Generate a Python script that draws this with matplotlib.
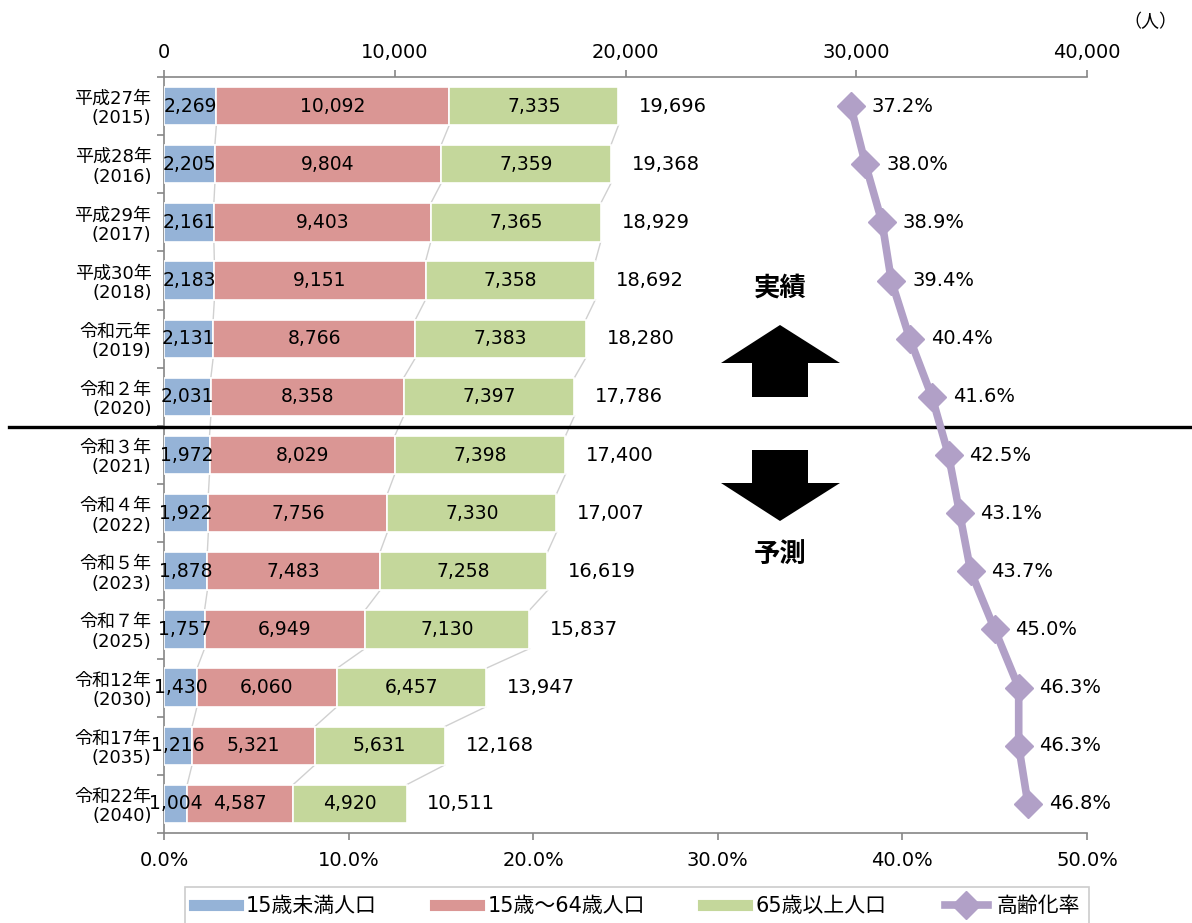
import matplotlib
matplotlib.use("Agg")
import matplotlib.pyplot as plt
from matplotlib.lines import Line2D
from matplotlib.patches import Polygon
from matplotlib.ticker import FuncFormatter
import numpy as np

plt.rcParams['font.family'] = ['DejaVu Sans', 'Noto Sans CJK JP']

years = ['平成27年\n(2015)', '平成28年\n(2016)', '平成29年\n(2017)', '平成30年\n(2018)',
         '令和元年\n(2019)', '令和２年\n(2020)', '令和３年\n(2021)', '令和４年\n(2022)',
         '令和５年\n(2023)', '令和７年\n(2025)', '令和12年\n(2030)', '令和17年\n(2035)',
         '令和22年\n(2040)']
under15 = [2269, 2205, 2161, 2183, 2131, 2031, 1972, 1922, 1878, 1757, 1430, 1216, 1004]
age15_64 = [10092, 9804, 9403, 9151, 8766, 8358, 8029, 7756, 7483, 6949, 6060, 5321, 4587]
over65 = [7335, 7359, 7365, 7358, 7383, 7397, 7398, 7330, 7258, 7130, 6457, 5631, 4920]
total = [19696, 19368, 18929, 18692, 18280, 17786, 17400, 17007, 16619, 15837, 13947, 12168, 10511]
aging_rate = [37.2, 38.0, 38.9, 39.4, 40.4, 41.6, 42.5, 43.1, 43.7, 45.0, 46.3, 46.3, 46.8]

series_names = ['15歳未満人口', '15歳～64歳人口', '65歳以上人口', '高齢化率']
colors = ['#95b3d7', '#da9694', '#c4d79b']
rate_color = '#b1a0c7'
grey = '#868686'

W, H = 1192, 923
fig = plt.figure(figsize=(W / 100, H / 100), dpi=100)
ax = fig.add_axes([164 / W, 1 - 833 / H, 923 / W, 756 / H])

y = np.arange(len(years))
bh = 0.66
left = np.zeros(len(years))
cums = []
for vals, c in zip([under15, age15_64, over65], colors):
    vals = np.array(vals)
    ax.barh(y, vals, left=left, height=bh, color=c, edgecolor='white', linewidth=1.2, zorder=3)
    for yi, l, v in zip(y, left, vals):
        ax.text(l + v / 2, yi, f'{v:,}', ha='center', va='center', fontsize=13.5, zorder=5)
    left = left + vals
    cums.append(left.copy())

# connector lines between stacked bars
for cum in cums:
    for i in range(len(years) - 1):
        ax.plot([cum[i], cum[i + 1]], [i + bh / 2, i + 1 - bh / 2], color='#d0d0d0', lw=1, zorder=2)

for yi, t in zip(y, total):
    ax.annotate(f'{t:,}', xy=(t, yi), xytext=(15, 0), textcoords='offset points',
                ha='left', va='center', fontsize=14)

ax.set_xlim(0, 40000)
ax.set_ylim(len(years) - 0.5, -0.5)
ax.set_yticks(y)
ax.set_yticklabels(years, fontsize=13, linespacing=1.1)
ax.set_yticks(np.arange(-0.5, len(years)), minor=True)
ax.tick_params(axis='y', which='major', length=0, pad=9)
ax.tick_params(axis='y', which='minor', length=5, width=1.2, color=grey)
for s in ['right', 'bottom']:
    ax.spines[s].set_visible(False)
for s in ['top', 'left']:
    ax.spines[s].set_color(grey)
    ax.spines[s].set_linewidth(1.2)

# divider between actual and forecast
ax.plot([(9 - 164) / 923, (W - 164) / 923], [1 - (427 - 77) / 756] * 2, transform=ax.transAxes,
        color='black', lw=2.4, clip_on=False, zorder=4)

ax2 = ax.twiny()
ax2.plot(aging_rate, y, color=rate_color, lw=5.5, marker='D', ms=14,
         solid_joinstyle='round', zorder=5)
for yi, r in zip(y, aging_rate):
    ax2.annotate(f'{r:.1f}%', xy=(r, yi), xytext=(15, 0), textcoords='offset points',
                 ha='left', va='center', fontsize=14)
ax2.set_xlim(0, 50)
ax2.xaxis.tick_bottom()
ax2.set_xticks(np.arange(0, 51, 10))
ax2.xaxis.set_major_formatter(FuncFormatter(lambda v, p: f'{v:.1f}%'))
ax2.tick_params(axis='x', which='both', top=False, colors=grey, labelcolor='black', labelsize=14,
                length=5, width=1.2, pad=8)
for s in ['top', 'right', 'left']:
    ax2.spines[s].set_visible(False)
ax2.spines['bottom'].set_color(grey)
ax2.spines['bottom'].set_linewidth(1.2)
ax2.set_ylim(len(years) - 0.5, -0.5)

# twiny moves the first axes' ticks to the bottom, so put them back on top
ax.xaxis.tick_top()
ax.set_xticks(np.arange(0, 40001, 10000))
ax.xaxis.set_major_formatter(FuncFormatter(lambda v, p: f'{int(v):,}'))
ax.tick_params(axis='x', which='both', bottom=False, labelbottom=False, colors=grey,
               labelcolor='black', labelsize=14, length=5, width=1.2, pad=6)

fig.text(1150 / W, 1 - 22 / H, '（人）', ha='center', va='center', fontsize=13,
         family=['Noto Sans CJK JP'])

# arrows and labels
def fp(x, yy):
    return (x / W, 1 - yy / H)

up = [fp(752, 397), fp(752, 363), fp(721, 363), fp(780, 325), fp(840, 363), fp(808, 363), fp(808, 397)]
down = [fp(752, 450), fp(808, 450), fp(808, 483), fp(840, 483), fp(780, 521), fp(721, 483), fp(752, 483)]
for pts in [up, down]:
    fig.add_artist(Polygon(pts, closed=True, transform=fig.transFigure, facecolor='black', edgecolor='none'))
fig.text(780 / W, 1 - 289 / H, '実績', ha='center', va='center', fontsize=19, fontweight='bold')
fig.text(780 / W, 1 - 556 / H, '予測', ha='center', va='center', fontsize=19, fontweight='bold')

handles = [Line2D([], [], color=c, lw=8) for c in colors]
handles.append(Line2D([], [], color=rate_color, lw=5.5, marker='D', ms=14))
leg = fig.legend(handles, series_names, loc='upper center', bbox_to_anchor=(637 / W, 1 - 887 / H),
                 ncol=4, frameon=True, fancybox=False, fontsize=15, handlelength=2.1,
                 columnspacing=2.8, borderpad=0.45, handletextpad=0.4, borderaxespad=0)
leg.get_frame().set_edgecolor('#bfbfbf')
leg.get_frame().set_linewidth(1.2)

fig.savefig('out.png', dpi=100)
